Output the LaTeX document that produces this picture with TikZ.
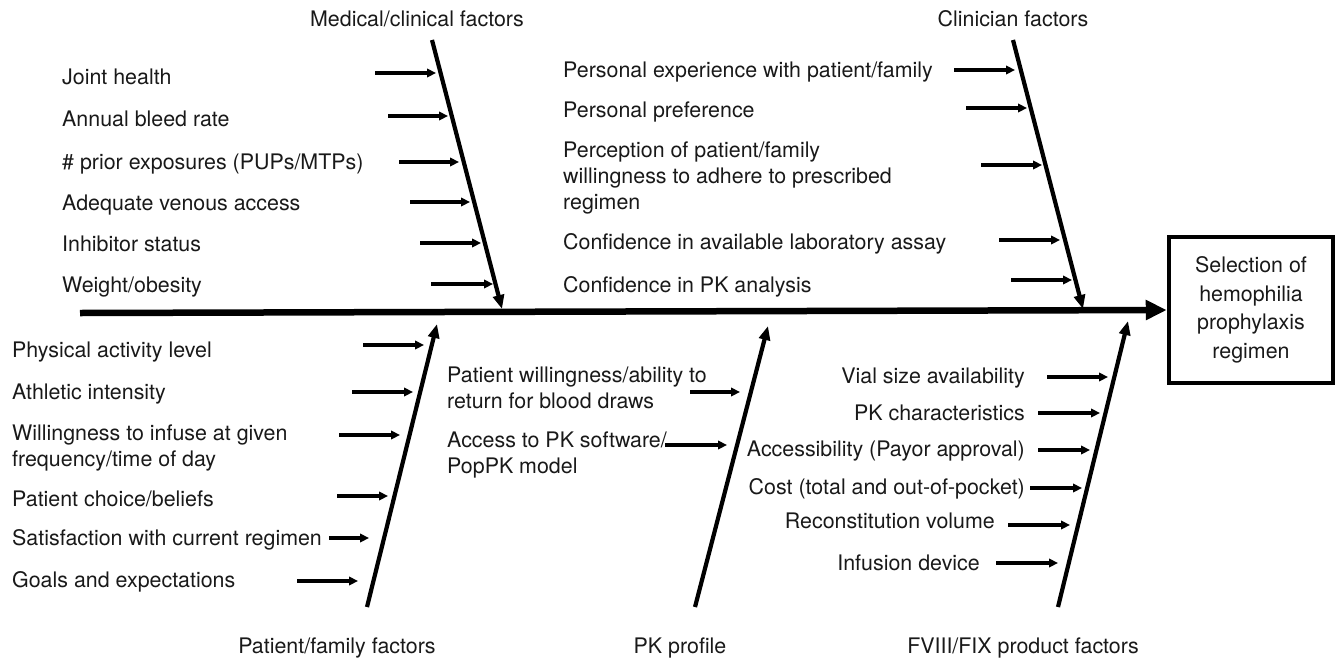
\documentclass[tikz,border=0pt]{standalone}
\usepackage{fontspec}
\setmainfont{TeX Gyre Heros}
\usetikzlibrary{arrows.meta}
\begin{document}
\begin{tikzpicture}[x=1pt,y=-1pt,
  lbl/.style={font=\fontsize{21.4}{26}\selectfont, inner sep=0pt, text=black!90},
  ml/.style={lbl, align=left, anchor=north west},
  bone/.style={line width=4.2pt, -{Triangle[length=14pt,width=11pt]}},
  spine/.style={line width=6.5pt, -{Triangle[length=21pt,width=19pt]}},
  twig/.style={line width=3.2pt, -{Triangle[length=9pt,width=8.5pt]}}]
\useasboundingbox (0,0) rectangle (1336,662);
% spine and effect box
\coordinate (s0) at (80,313);
\node[draw, line width=4.5pt, minimum width=164pt, minimum height=146pt, inner sep=0pt,
  lbl, align=center, font=\fontsize{21.4}{28.5}\selectfont] (effect) at (1251,310)
  {Selection of\\hemophilia\\prophylaxis\\regimen};
\draw[spine] (s0) -- (effect.west);
% ---- Medical/clinical
\node[lbl] (mcL) at (417,19) {Medical/clinical factors};
\coordinate (mcA) at (432,40); \coordinate (mcB) at (502,309);
\draw[bone] (mcA) -- (mcB);
\node[lbl, anchor=base west] (m1) at (62,84) {Joint health};
\node[lbl, anchor=base west] (m2) at (62,126) {Annual bleed rate};
\node[lbl, anchor=base west] (m3) at (62,169) {\# prior exposures (PUPs/MTPs)};
\node[lbl, anchor=base west] (m4) at (62,210) {Adequate venous access};
\node[lbl, anchor=base west] (m5) at (62,251) {Inhibitor status};
\node[lbl, anchor=base west] (m6) at (62,292) {Weight/obesity};
\foreach \i/\xs/\xe/\y in {1/375/436/73, 2/388/448/116, 3/399/459/162, 4/410/470/202, 5/420/481/243, 6/431/493/284}{
  \coordinate (ms\i) at (\xs,\y); \coordinate (me\i) at (\xe,\y);
  \draw[twig] (ms\i) -- (me\i);}
% ---- Clinician
\node[lbl] (clL) at (1013,19) {Clinician factors};
\coordinate (clA) at (1013,40); \coordinate (clB) at (1083,309);
\draw[bone] (clA) -- (clB);
\node[lbl, anchor=base west] (c1) at (563,77) {Personal experience with patient/family};
\node[lbl, anchor=base west] (c2) at (563,117) {Personal preference};
\node[ml] (c3) at (563,142) {Perception of patient/family\\willingness to adhere to prescribed\\regimen};
\node[lbl, anchor=base west] (c4) at (563,249) {Confidence in available laboratory assay};
\node[lbl, anchor=base west] (c5) at (563,292) {Confidence in PK analysis};
\foreach \i/\xs/\xe/\y in {1/954/1015/70, 2/966/1027/108, 3/981/1042/165, 4/999/1060/240, 5/1011/1072/280}{
  \coordinate (cs\i) at (\xs,\y); \coordinate (ce\i) at (\xe,\y);
  \draw[twig] (cs\i) -- (ce\i);}
% ---- Patient/family
\node[lbl] (pfL) at (337,648) {Patient/family factors};
\coordinate (pfA) at (367,607); \coordinate (pfB) at (437,324);
\draw[bone] (pfA) -- (pfB);
\node[lbl, anchor=base west] (p1) at (12,357) {Physical activity level};
\node[lbl, anchor=base west] (p2) at (12,399) {Athletic intensity};
\node[ml] (p3) at (12,425) {Willingness to infuse at given\\frequency/time of day};
\node[lbl, anchor=base west] (p4) at (12,506) {Patient choice/beliefs};
\node[lbl, anchor=base west] (p5) at (12,545) {Satisfaction with current regimen};
\node[lbl, anchor=base west] (p6) at (12,587) {Goals and expectations};
\foreach \i/\xs/\xe/\y in {1/363/424/345, 2/352/413/392, 3/339/400/435, 4/337/388/496, 5/329/369/538, 6/297/358/581}{
  \coordinate (ps\i) at (\xs,\y); \coordinate (pe\i) at (\xe,\y);
  \draw[twig] (ps\i) -- (pe\i);}
% ---- PK profile
\node[lbl] (pkL) at (680,648) {PK profile};
\coordinate (pkA) at (695,607); \coordinate (pkB) at (768,326);
\draw[bone] (pkA) -- (pkB);
\node[ml] (k1) at (447,367) {Patient willingness/ability to\\return for blood draws};
\node[ml] (k2) at (447,432) {Access to PK software/\\PopPK model};
\foreach \i/\xs/\xe/\y in {1/690/740/392, 2/665/727/445}{
  \coordinate (ks\i) at (\xs,\y); \coordinate (ke\i) at (\xe,\y);
  \draw[twig] (ks\i) -- (ke\i);}
% ---- FVIII/FIX
\node[lbl] (fvL) at (1023,648) {FVIII/FIX product factors};
\coordinate (fvA) at (1058,607); \coordinate (fvB) at (1128,321);
\draw[bone] (fvA) -- (fvB);
\node[lbl, anchor=base east] (f1) at (1025,383) {Vial size availability};
\node[lbl, anchor=base east] (f2) at (1025,420) {PK characteristics};
\node[lbl, anchor=base east] (f3) at (1025,456) {Accessibility (Payor approval)};
\node[lbl, anchor=base east] (f4) at (1025,494) {Cost (total and out-of-pocket)};
\node[lbl, anchor=base east] (f5) at (995,528) {Reconstitution volume};
\node[lbl, anchor=base east] (f6) at (980,570) {Infusion device};
\foreach \i/\xs/\xe/\y in {1/1047/1108/377, 2/1038/1100/413, 3/1038/1090/450, 4/1030/1082/488, 5/1008/1070/525, 6/996/1058/563}{
  \coordinate (fs\i) at (\xs,\y); \coordinate (fe\i) at (\xe,\y);
  \draw[twig] (fs\i) -- (fe\i);}
\end{tikzpicture}
\end{document}
